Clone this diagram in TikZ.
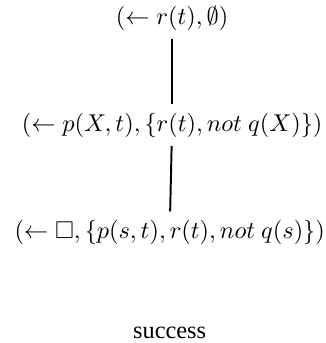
\documentclass[tikz,border=0pt]{standalone}
\usepackage{amsmath,amssymb}
\usepackage{fontspec}
\setmainfont{Liberation Serif}
\usepackage{tikz}
\usetikzlibrary{positioning}

\begin{document}
\begin{tikzpicture}[node distance=27pt]
\useasboundingbox (-70.8pt,7.4pt) rectangle (62.9pt,-133.7pt);
\node (g0) {$(\leftarrow r(t), \emptyset)$};
\node[below=of g0] (g1) {$(\leftarrow p(X,t), \{r(t), not\ q(X)\})$};
\node[below=of g1,xshift=-1pt] (g2) {$(\leftarrow \Box, \{p(s,t), r(t), not\ q(s)\})$};
\node[below=of g2] (ok) {success};
\draw[thick] (g0)--(g1);
\draw[thick] (g1)--(g2);
\end{tikzpicture}
\end{document}
